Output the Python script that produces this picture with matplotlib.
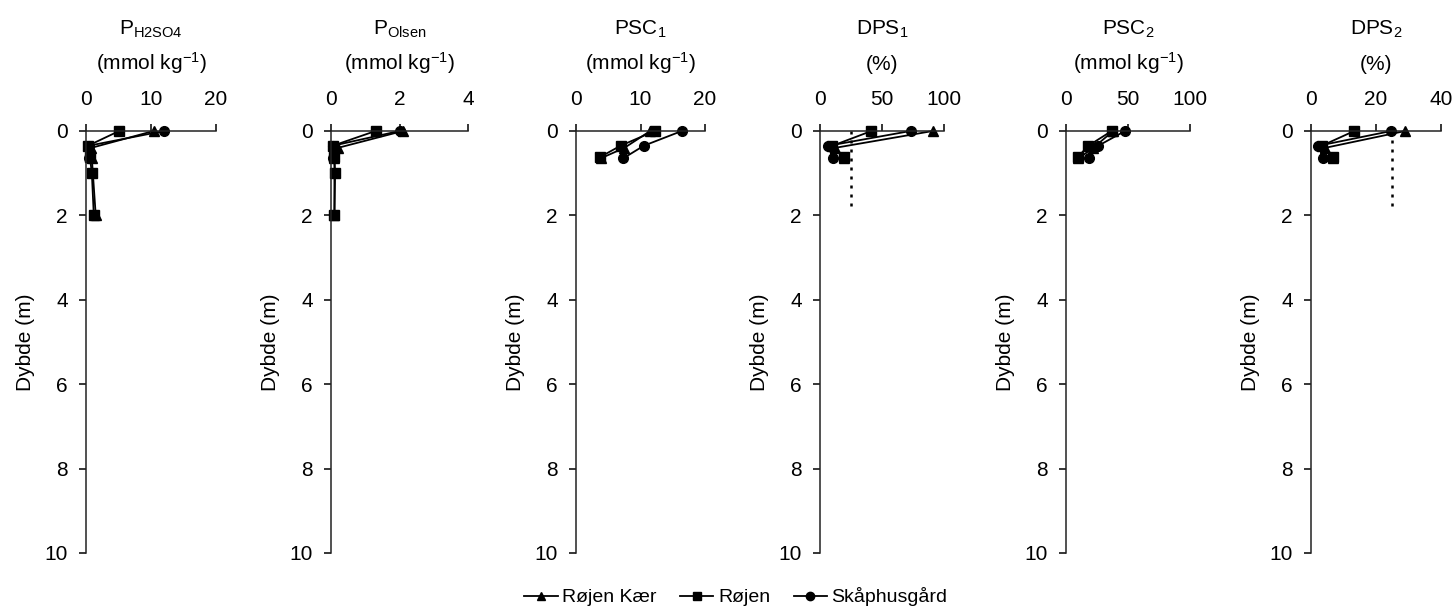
import numpy as np
import matplotlib
matplotlib.use("Agg")
import matplotlib.pyplot as plt
from matplotlib.lines import Line2D

plt.rcParams['font.family'] = ['Liberation Sans', 'DejaVu Sans']
plt.rcParams['font.size'] = 15
plt.rcParams['mathtext.fontset'] = 'custom'
plt.rcParams['mathtext.rm'] = 'Liberation Sans'
plt.rcParams['mathtext.it'] = 'Liberation Sans'
plt.rcParams['axes.unicode_minus'] = False

nan = np.nan

# -- depths (m) for each site --
depth_rk = [0.0, 0.4, 0.65, 2.0]         # Røjen Kær
depth_rj = [0.0, 0.35, 0.62, 1.0, 2.0]   # Røjen
depth_sk = [0.0, 0.35, 0.65]             # Skåphusgård

site_names = ['Røjen Kær', 'Røjen', 'Skåphusgård']

# -- values per panel --
p_h2so4_rk = [10.4, 0.8, 0.9, 1.5]
p_h2so4_rj = [5.1, 0.3, 0.6, 0.9, 1.2]
p_h2so4_sk = [12.0, 0.4, 0.5]

p_olsen_rk = [2.1, 0.2, 0.1, 0.1]
p_olsen_rj = [1.3, 0.05, 0.1, 0.12, 0.1]
p_olsen_sk = [2.0, 0.05, 0.07]

psc1_rk = [11.5, 7.5, 3.8, nan]
psc1_rj = [12.2, 6.9, 3.7, nan, nan]
psc1_sk = [16.4, 10.5, 7.3]

dps1_rk = [91, 12, 19, nan]
dps1_rj = [41.5, 10, 19, nan, nan]
dps1_sk = [73, 6.7, 10.2]

psc2_rk = [38, 22, 10, nan]
psc2_rj = [36.8, 18, 9.4, nan, nan]
psc2_sk = [47.6, 26, 18.8]

dps2_rk = [29, 4.3, 6.7, nan]
dps2_rj = [13.3, 3.3, 6.7, nan, nan]
dps2_sk = [24.7, 2.3, 3.8]

titles = [r'P$_{\mathrm{H2SO4}}$', r'P$_{\mathrm{Olsen}}$', r'PSC$_1$',
          r'DPS$_1$', r'PSC$_2$', r'DPS$_2$']
units = [r'(mmol kg$^{\mathrm{-1}}$)', r'(mmol kg$^{\mathrm{-1}}$)',
         r'(mmol kg$^{\mathrm{-1}}$)', '(%)', r'(mmol kg$^{\mathrm{-1}}$)', '(%)']
xmax = [20, 4, 20, 100, 100, 40]
xticks = [[0, 10, 20], [0, 2, 4], [0, 10, 20], [0, 50, 100], [0, 50, 100], [0, 20, 40]]
panel_data = [
    (p_h2so4_rk, p_h2so4_rj, p_h2so4_sk),
    (p_olsen_rk, p_olsen_rj, p_olsen_sk),
    (psc1_rk, psc1_rj, psc1_sk),
    (dps1_rk, dps1_rj, dps1_sk),
    (psc2_rk, psc2_rj, psc2_sk),
    (dps2_rk, dps2_rj, dps2_sk),
]
# DPS threshold line (%), drawn in DPS panels
dps_limit = 25
limit_depth = [0, 1.9]

# axes placement in pixels (left, right)
W, H = 1456, 612
px_lr = [(86, 216), (331, 468), (576, 705), (820, 944), (1066, 1190), (1311, 1441)]
top_px, bot_px = 131, 553

fig = plt.figure(figsize=(W / 100, H / 100), dpi=100)

markers = ['^', 's', 'o']
msizes = [7.5, 7, 7]
depths = [depth_rk, depth_rj, depth_sk]

for i in range(6):
    l, r = px_lr[i]
    ax = fig.add_axes([l / W, 1 - bot_px / H, (r - l) / W, (bot_px - top_px) / H])
    for vals, dep, mk, ms in zip(panel_data[i], depths, markers, msizes):
        ax.plot(vals, dep, color='black', lw=1.3, marker=mk, ms=ms,
                markeredgecolor='black', markerfacecolor='black', clip_on=False)
    if i in (3, 5):
        ax.plot([dps_limit, dps_limit], limit_depth, color='black', lw=1.8,
                linestyle=(0, (1.2, 2.4)))
    ax.set_xlim(0, xmax[i])
    ax.set_ylim(10, 0)
    ax.set_xticks(xticks[i])
    ax.set_yticks([0, 2, 4, 6, 8, 10])
    ax.xaxis.tick_top()
    ax.spines['right'].set_visible(False)
    ax.spines['bottom'].set_visible(False)
    for s in ('top', 'left'):
        ax.spines[s].set_linewidth(1.1)
        ax.spines[s].set_color('#222222')
    ax.tick_params(axis='x', direction='out', length=5, width=1.1, pad=11, colors='black')
    ax.tick_params(axis='y', direction='out', length=5, width=1.1, pad=8, colors='black')
    ax.set_ylabel('Dybde (m)', labelpad=7)
    ax.annotate(titles[i], xy=(0.5, 1), xycoords='axes fraction',
                xytext=(0, 69), textcoords='offset points',
                ha='center', va='baseline')
    ax.annotate(units[i], xy=(0.5, 1), xycoords='axes fraction',
                xytext=(0, 44), textcoords='offset points',
                ha='center', va='baseline')

handles = [Line2D([], [], color='black', lw=1.3, marker=m, ms=6) for m in markers]
fig.legend(handles, site_names, loc='center', bbox_to_anchor=(736 / W, 1 - 597 / H),
           ncol=3, frameon=False, handlelength=1.7, handletextpad=0.25,
           columnspacing=1.2, fontsize=14)

fig.savefig('out.png', dpi=100)
